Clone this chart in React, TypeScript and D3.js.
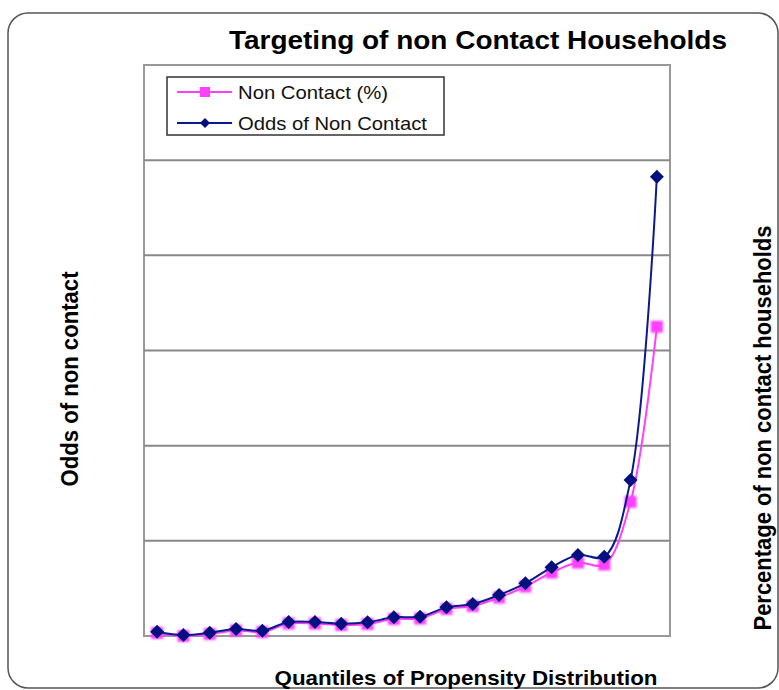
import React from 'react';
import * as d3 from 'd3';

// quantile groups along the x axis (no tick labels in the chart)
const quantiles = d3.range(1, 21).map(i => `Q${i}`);

// odds of non contact (left axis)
const oddsValues = [
  0.045, 0.01, 0.035, 0.074, 0.056, 0.147, 0.147, 0.129, 0.144, 0.196,
  0.203, 0.301, 0.336, 0.431, 0.554, 0.722, 0.851, 0.833, 1.639, 4.825,
];

// non contact percentage (right axis)
const pctValues = [
  0.32, 0.0, 0.21, 0.58, 0.42, 1.31, 1.31, 1.16, 1.26, 1.79,
  1.84, 2.84, 3.15, 4.04, 5.2, 6.67, 7.72, 7.51, 14.1, 32.5,
];

const oddsTicks = [0, 1, 2, 3, 4, 5, 6];

const W = 779;
const H = 690;
const plot = { left: 144, right: 670, top: 65, bottom: 636 };
const FONT = "'Liberation Sans', Arial, Helvetica, sans-serif";
const PINK = '#ff40ff';
const BLUE = '#0a1a8c';

const App = () => {
  const x = d3.scalePoint<string>().domain(quantiles).range([plot.left, plot.right]).padding(0.5);
  const yOdds = d3.scaleLinear().domain([0, 6]).range([plot.bottom, plot.top]);
  const yPct = d3.scaleLinear().domain([0, 60]).range([plot.bottom, plot.top]);

  const oddsLine = d3.line<number>()
    .x((d, i) => x(quantiles[i])!)
    .y(d => yOdds(d))
    .curve(d3.curveCatmullRom);
  const pctLine = d3.line<number>()
    .x((d, i) => x(quantiles[i])!)
    .y(d => yPct(d))
    .curve(d3.curveCatmullRom);

  const sq = 12;
  const dm = 7;
  const diamond = (cx: number, cy: number) =>
    `M${cx},${cy - dm}L${cx + dm},${cy}L${cx},${cy + dm}L${cx - dm},${cy}Z`;

  // legend
  const lg = { x: 167, y: 77, w: 277, h: 58 };
  const rows = [
    { label: 'Non Contact (%)', color: PINK, kind: 'square', y: 92, len: 150 },
    { label: 'Odds of Non Contact', color: BLUE, kind: 'diamond', y: 123, len: 189 },
  ];

  return (
    <svg width={W} height={H} style={{ position: 'absolute', left: 0, top: 0, fontFamily: FONT }}>
      <defs>
        <filter id="soft" x="-50%" y="-50%" width="200%" height="200%">
          <feGaussianBlur stdDeviation="0.9" />
        </filter>
      </defs>
      <rect x={0} y={0} width={W} height={H} fill="#fff" />
      <rect x={8} y={13} width={770} height={675} rx={20} ry={20} fill="#fff" stroke="#555" strokeWidth={1.5} />

      <text x={229} y={49} fontSize={25} fontWeight="bold" textLength={498} lengthAdjust="spacingAndGlyphs" fill="#000">
        Targeting of non Contact Households
      </text>

      {/* plot area */}
      <rect x={plot.left} y={plot.top} width={plot.right - plot.left} height={plot.bottom - plot.top}
        fill="#fff" stroke="#999" strokeWidth={2} />
      {oddsTicks.slice(1, -1).map(t => (
        <line key={t} x1={plot.left} x2={plot.right} y1={yOdds(t)} y2={yOdds(t)} stroke="#888" strokeWidth={2} />
      ))}

      {/* non contact % series */}
      <path d={pctLine(pctValues)!} fill="none" stroke={PINK} strokeWidth={2} />
      {pctValues.map((v, i) => (
        <rect key={i} x={x(quantiles[i])! - sq / 2} y={yPct(v) - sq / 2} width={sq} height={sq}
          fill={PINK} filter="url(#soft)" />
      ))}

      {/* odds series */}
      <path d={oddsLine(oddsValues)!} fill="none" stroke={BLUE} strokeWidth={2} />
      {oddsValues.map((v, i) => (
        <path key={i} d={diamond(x(quantiles[i])!, yOdds(v))} fill="#00117f" />
      ))}

      {/* legend */}
      <rect x={lg.x} y={lg.y} width={lg.w} height={lg.h} fill="#fff" stroke="#333" strokeWidth={1.5} />
      {rows.map(r => (
        <g key={r.label}>
          <line x1={177} x2={232} y1={r.y} y2={r.y} stroke={r.color} strokeWidth={2} />
          {r.kind === 'square'
            ? <rect x={205 - 5} y={r.y - 5} width={10} height={10} fill={r.color} />
            : <path d={`M205,${r.y - 5}L210,${r.y}L205,${r.y + 5}L200,${r.y}Z`} fill="#00117f" />}
          <text x={238} y={r.y} dy="0.35em" fontSize={19} textLength={r.len} lengthAdjust="spacingAndGlyphs" fill="#111">
            {r.label}
          </text>
        </g>
      ))}

      {/* axis titles */}
      <text transform="translate(70,379) rotate(-90)" textAnchor="middle" dy="0.35em" fontSize={24} fontWeight="bold"
        textLength={215} lengthAdjust="spacingAndGlyphs" fill="#000">
        Odds of non contact
      </text>
      <text transform="translate(763,428) rotate(-90)" textAnchor="middle" dy="0.35em" fontSize={24} fontWeight="bold"
        textLength={405} lengthAdjust="spacingAndGlyphs" fill="#000">
        Percentage of non contact households
      </text>
      <text x={466} y={685} textAnchor="middle" fontSize={21} fontWeight="bold"
        textLength={383} lengthAdjust="spacingAndGlyphs" fill="#000">
        Quantiles of Propensity Distribution
      </text>
    </svg>
  );
};

export default App;
